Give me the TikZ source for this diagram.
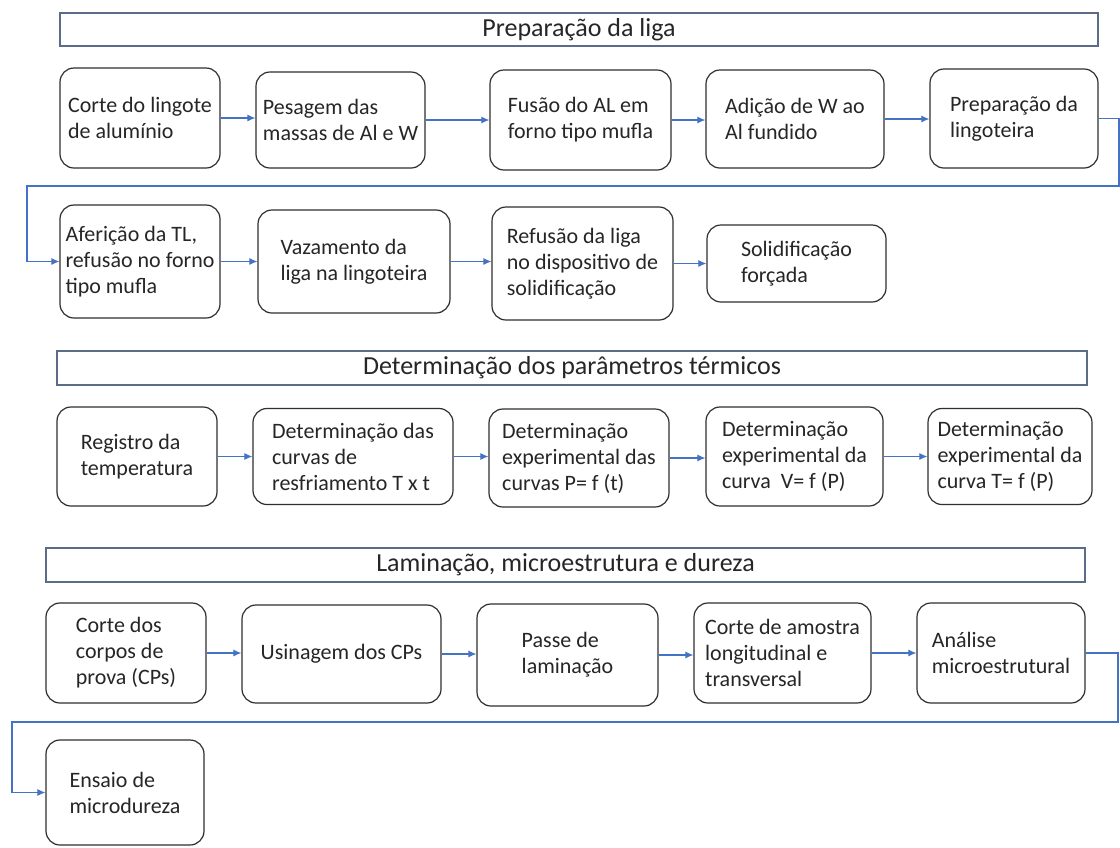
\documentclass[tikz,border=0pt]{standalone}
\usepackage{fontspec}
\setmainfont{Carlito}
\usetikzlibrary{arrows.meta}
\definecolor{connblue}{HTML}{4472C4}
\definecolor{tborder}{HTML}{5B6B88}
\definecolor{bborder}{HTML}{2F2F2F}
\definecolor{txtcol}{HTML}{262626}
\begin{document}
\begin{tikzpicture}[x=1pt,y=-1pt,
  stepbox/.style={draw=bborder, line width=1.2pt, rounded corners=14pt, fill=white,
    align=left, inner xsep=3pt, inner ysep=2pt, text=txtcol,
    font=\fontsize{22}{26}\selectfont},
  titlebox/.style={draw=tborder, line width=1.1pt, inner sep=0pt, text=txtcol,
    font=\fontsize{26}{30}\selectfont},
  flow/.style={draw=connblue, line width=1.1pt, -{Latex[length=8pt,width=7pt]}}
]
\useasboundingbox[fill=white] (0,0) rectangle (1120,847);

% ---- Section 1
\node[titlebox, minimum width=1038pt, minimum height=33pt] (T1) at (579,29.5) {Preparação da liga};

\node[stepbox, minimum width=160pt, minimum height=100pt] (A) at (140,118) {Corte do lingote\\de alumínio};
\node[stepbox, minimum width=169pt, minimum height=96pt] (B) at (340.5,120) {Pesagem das\\massas de Al e W};
\node[stepbox, minimum width=181pt, minimum height=100pt] (C) at (580.5,120) {Fusão do AL em\\forno tipo mufla};
\node[stepbox, minimum width=178pt, minimum height=98pt] (D) at (795,119) {Adição de W ao\\Al fundido};
\node[stepbox, minimum width=168pt, minimum height=99pt] (E) at (1014,118.5) {Preparação da\\lingoteira};

\node[stepbox, minimum width=160pt, minimum height=113pt] (F) at (140,261.5) {Aferição da TL,\\refusão no forno\\tipo mufla};
\node[stepbox, minimum width=192pt, minimum height=103pt] (G) at (354,261.5) {Vazamento da\\liga na lingoteira};
\node[stepbox, minimum width=181pt, minimum height=113pt] (I) at (582.5,263.5) {Refusão da liga\\no dispositivo de\\solidificação};
\node[stepbox, minimum width=179pt, minimum height=77pt] (J) at (796.5,263.5) {Solidificação\\forçada};

\draw[flow] (A.east) -- (A.east -| B.west);
\draw[flow] (B.east) -- (B.east -| C.west);
\draw[flow] (C.east) -- (C.east -| D.west);
\draw[flow] (D.east) -- (D.east -| E.west);
\coordinate (r1) at (1119,186);
\coordinate (l1) at (27,186);
\draw[flow] (E.east) -| (r1) -- (l1) |- (F.west);
\draw[flow] (F.east) -- (F.east -| G.west);
\draw[flow] (G.east) -- (G.east -| I.west);
\draw[flow] (I.east) -- (I.east -| J.west);

% ---- Section 2
\node[titlebox, minimum width=1030pt, minimum height=34pt] (T2) at (572,368) {Determinação dos parâmetros térmicos};

\node[stepbox, minimum width=160pt, minimum height=99pt] (K) at (137,456.5) {Registro da\\temperatura};
\node[stepbox, minimum width=200pt, minimum height=96pt] (L) at (353,456.5) {Determinação das\\curvas de\\resfriamento T x t};
\node[stepbox, minimum width=180pt, minimum height=98pt] (M) at (579,458) {Determinação\\experimental das\\curvas P= f (t)};
\node[stepbox, minimum width=177pt, minimum height=99pt] (N) at (794.5,456.5) {Determinação\\experimental da\\curva\ \ V= f (P)};
\node[stepbox, minimum width=164pt, minimum height=96pt] (O) at (1010,456.5) {Determinação\\experimental da\\curva T= f (P)};

\draw[flow] (K.east) -- (K.east -| L.west);
\draw[flow] (L.east) -- (L.east -| M.west);
\draw[flow] (M.east) -- (M.east -| N.west);
\draw[flow] (N.east) -- (N.east -| O.west);

% ---- Section 3
\node[titlebox, minimum width=1039pt, minimum height=34pt] (T3) at (565.5,565) {Laminação, microestrutura e dureza};

\node[stepbox, minimum width=160pt, minimum height=100pt] (P) at (126,653) {Corte dos\\corpos de\\prova (CPs)};
\node[stepbox, minimum width=199pt, minimum height=98pt] (Q) at (341.5,654) {Usinagem dos CPs};
\node[stepbox, minimum width=181pt, minimum height=102pt] (R) at (567.5,655) {Passe de\\laminação};
\node[stepbox, minimum width=177pt, minimum height=100pt] (S) at (782.5,653) {Corte de amostra\\longitudinal e\\transversal};
\node[stepbox, minimum width=168pt, minimum height=100pt] (Tt) at (1001,653) {Análise\\microestrutural};
\node[stepbox, minimum width=158pt, minimum height=105pt] (U) at (125,792.5) {Ensaio de\\microdureza};

\draw[flow] (P.east) -- (P.east -| Q.west);
\draw[flow] (Q.east) -- (Q.east -| R.west);
\draw[flow] (R.east) -- (R.east -| S.west);
\draw[flow] (S.east) -- (S.east -| Tt.west);
\coordinate (r2) at (1118,722);
\coordinate (l2) at (12,722);
\draw[flow] (Tt.east) -| (r2) -- (l2) |- (U.west);
\end{tikzpicture}
\end{document}
